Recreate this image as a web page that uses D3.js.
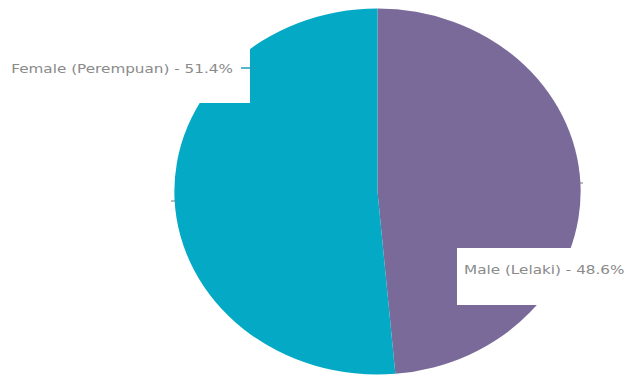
<!DOCTYPE html>
<html>
<head>
<meta charset="utf-8">
<script src="https://cdn.jsdelivr.net/npm/d3@7"></script>
<style>
  body { margin: 0; background: #fff; }
</style>
</head>
<body>
<script>
var w = 626;
var h = 380;

var categories = ["Male (Lelaki)", "Female (Perempuan)"];
var values = [48.6, 51.4];
var colors = ["#7a6a9a", "#03a9c5"];

var r = 183;
var sx = 1.11;
var tx = 1.27;
var cx = 377.5;
var cy = 191.5;

var svg = d3.select("body")
    .append("svg")
    .attr("width", w)
    .attr("height", h);

var pie = d3.pie()
    .sort(null)
    .value(function (d) { return d; });

var arc = d3.arc()
    .innerRadius(0)
    .outerRadius(r);

var slices = pie(values);

var g = svg.append("g")
    .attr("transform", "translate(" + cx + "," + cy + ") scale(" + sx + ",1)");

g.selectAll("path")
    .data(slices)
    .enter()
    .append("path")
    .attr("d", arc)
    .attr("fill", function (d, i) { return colors[i]; });

// little ticks on the left and right edge
svg.append("line")
    .attr("x1", 171).attr("x2", 175)
    .attr("y1", 201).attr("y2", 201)
    .attr("stroke", "#777").attr("stroke-width", 1);
svg.append("line")
    .attr("x1", 579).attr("x2", 583)
    .attr("y1", 183).attr("y2", 183)
    .attr("stroke", "#777").attr("stroke-width", 1);

// label boxes
var labels = [
    { box: [457, 248, 170, 57], x: 464, y: 274, anchor: "start" },
    { box: [0, 42, 250, 61], x: 233, y: 73, anchor: "end" }
];

svg.selectAll("rect.lbl")
    .data(labels)
    .enter()
    .append("rect")
    .attr("class", "lbl")
    .attr("x", function (d) { return d.box[0]; })
    .attr("y", function (d) { return d.box[1]; })
    .attr("width", function (d) { return d.box[2]; })
    .attr("height", function (d) { return d.box[3]; })
    .attr("fill", "#fff");

svg.append("line")
    .attr("x1", 241).attr("x2", 257)
    .attr("y1", 68).attr("y2", 68)
    .attr("stroke", "#1a9fba").attr("stroke-width", 1.5);

svg.selectAll("text.lbl")
    .data(labels)
    .enter()
    .append("text")
    .attr("class", "lbl")
    .attr("transform", function (d) {
        return "translate(" + d.x + "," + d.y + ") scale(" + tx + ",1)";
    })
    .attr("text-anchor", function (d) { return d.anchor; })
    .style("font-family", "'DejaVu Sans', Verdana, sans-serif")
    .style("font-size", "12px")
    .style("fill", "#8a8a8a")
    .text(function (d, i) {
        return categories[i] + " - " + values[i].toFixed(1) + "%";
    });
</script>
</body>
</html>
